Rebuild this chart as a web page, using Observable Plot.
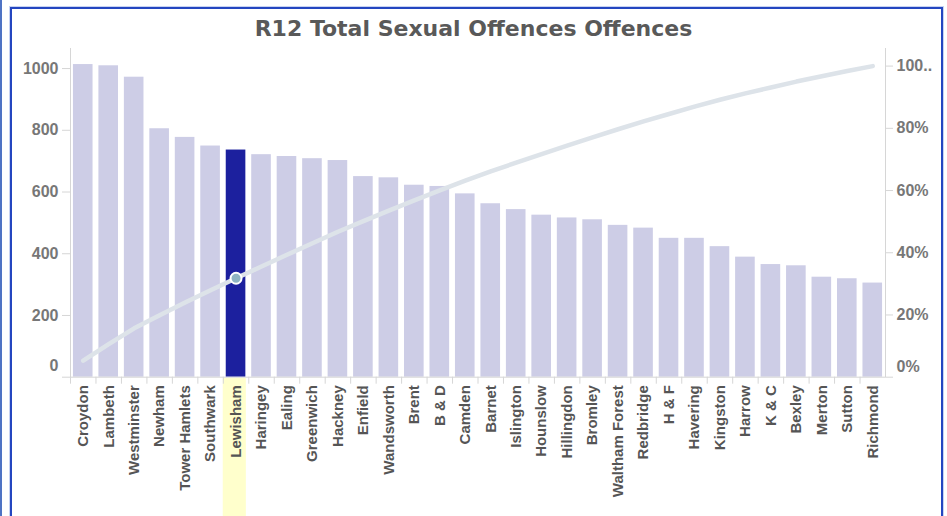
<!DOCTYPE html>
<html><head><meta charset="utf-8">
<script src="https://cdn.jsdelivr.net/npm/d3@7"></script>
<script src="https://cdn.jsdelivr.net/npm/@observablehq/plot@0.6"></script>
<style>
html,body{margin:0;padding:0;background:#fff;width:947px;height:516px;overflow:hidden}
#wrap{position:relative;width:947px;height:516px}
#edge{position:absolute;left:0;top:0;width:2px;height:516px;background:#4f73c4}
#frame{position:absolute;left:10px;top:7px;width:933px;height:530px;box-sizing:border-box;border:2px solid #2446c0;border-bottom:none;box-shadow:0 0 0 1px #c8d3f2}
#title{position:absolute;left:0;top:16px;width:947px;text-align:center;font:bold 22px "DejaVu Sans";color:#595959}
#chart{position:absolute;left:0;top:0}
</style></head>
<body><div id="wrap"><div id="edge"></div><div id="frame"></div><div id="chart"></div><div id="title">R12 Total Sexual Offences Offences</div></div>
<script>
const boroughs = ["Croydon","Lambeth","Westminster","Newham","Tower Hamlets","Southwark","Lewisham","Haringey","Ealing","Greenwich","Hackney","Enfield","Wandsworth","Brent","B & D","Camden","Barnet","Islington","Hounslow","Hillingdon","Bromley","Waltham Forest","Redbridge","H & F","Havering","Kingston","Harrow","K & C","Bexley","Merton","Sutton","Richmond"];
const offences = [1013,1009,972,805,777,749,736,721,715,708,702,650,646,622,618,594,562,543,525,516,510,492,483,450,450,423,389,365,361,324,319,305];
const highlight = "Lewisham";
const yTicks = [0,200,400,600,800,1000];
const pctTicks = [0,20,40,60,80,100];
const pctLabels = ["0%","20%","40%","60%","80%","100.."];

const K = 1008; // 100% on the right axis, in left-axis units
const total = d3.sum(offences);
const cums = d3.cumsum(offences);
const data = boroughs.map((name, i) => ({name, value: offences[i], cum: cums[i] / total}));
const pctPos = pctTicks.map(p => p / 100 * K);
const pctFmt = d => pctLabels[pctPos.indexOf(d)];

const W = 947, H = 516, mL = 70, mR = 62;
const step = (W - mL - mR) / boroughs.length;
const axisColor = "#d6d6d6";
const labelColor = "#777";
const lab = {fill: labelColor, fontSize: 16, fontWeight: "bold"};

const chart = Plot.plot({
  width: W, height: H,
  marginLeft: mL, marginRight: mR, marginTop: 48, marginBottom: 139.3,
  style: {fontFamily: "'Liberation Sans', Arial, sans-serif", background: "transparent", overflow: "visible"},
  x: {domain: boroughs, paddingInner: 0.23, paddingOuter: 0.115, round: false, label: null, axis: null},
  y: {domain: [0, 1065], label: null, axis: null},
  marks: [
    Plot.barY([highlight], {x: d => d, y1: -4, y2: -520, fill: "#ffffcc", insetLeft: -3, insetRight: -0.5}),
    Plot.frame({anchor: "left", stroke: axisColor}),
    Plot.frame({anchor: "right", stroke: axisColor}),
    Plot.barY(data.filter(d => d.name !== highlight), {x: "name", y: "value", fill: "#cdcde6"}),
    Plot.barY(data.filter(d => d.name === highlight), {x: "name", y: "value", fill: "#1c209e"}),
    Plot.ruleY([0], {stroke: axisColor}),
    Plot.line(data, {x: "name", y: d => d.cum * K, stroke: "#dde3e9", strokeWidth: 4.5, strokeLinecap: "round"}),
    Plot.dot(data.filter(d => d.name === highlight), {x: "name", y: d => d.cum * K, r: 5.5, fill: "#8fb4c3", stroke: "white", strokeWidth: 2}),
    // left axis
    Plot.axisY(yTicks, {anchor: "left", tickSize: 8, tickPadding: 4, stroke: axisColor, ...lab, tickFormat: d => d === 0 ? "" : String(d)}),
    Plot.axisY([0], {anchor: "left", tickSize: 0, tickPadding: 12, dy: -11, ...lab, tickFormat: d => String(d)}),
    // right axis
    Plot.axisY(pctPos, {anchor: "right", tickSize: 7, tickPadding: 4, stroke: axisColor, ...lab, tickFormat: d => d === 0 ? "" : pctFmt(d)}),
    Plot.axisY(pctPos.slice(0, 1), {anchor: "right", tickSize: 0, tickPadding: 11, dy: -10, ...lab, tickFormat: pctFmt}),
    // x axis
    Plot.axisX(boroughs, {anchor: "bottom", tickSize: 7, dx: -step / 2, stroke: axisColor, fill: "none"}),
    Plot.axisX(boroughs, {anchor: "bottom", tickRotate: -90, tickSize: 0, tickPadding: 8, fill: "#555", fontSize: 15, fontWeight: "bold"})
  ]
});
document.getElementById("chart").appendChild(chart);
</script>
</body></html>
